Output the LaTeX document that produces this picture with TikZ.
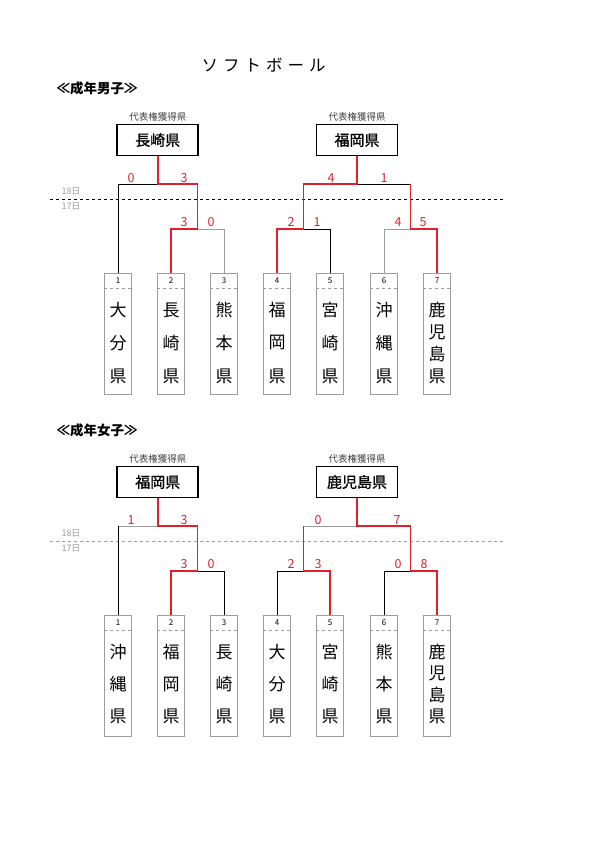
\documentclass[tikz,border=0pt]{standalone}
\usepackage{fontspec}
\setmainfont{Noto Sans CJK JP}
\newfontfamily\cjkmed[FakeBold=1]{Noto Sans CJK JP}
\usetikzlibrary{positioning}
\definecolor{winred}{HTML}{E0202A}
\definecolor{lgray}{HTML}{9C9C9C}

\begin{document}
\begin{tikzpicture}[x=1pt,y=-1pt,
 win/.style={winred,line width=1.8pt},
 lose/.style={black,line width=.7pt},
 gline/.style={lgray,line width=.7pt},
 score/.style={winred,font=\fontsize{12.5}{12.5}\selectfont},
 champ/.style={draw,line width=1.8pt,minimum width=81pt,minimum height=31pt,font=\cjkmed\fontsize{15}{15}\selectfont},
 repcap/.style={text=darkgray,font=\fontsize{9.5}{10}\selectfont,inner sep=1pt},
 day/.style={text=lgray,font=\fontsize{9}{9}\selectfont},
 head/.style={anchor=west,font=\bfseries\fontsize{13.5}{14}\selectfont},
 team/.style={draw=lgray,line width=.8pt,minimum width=27pt,minimum height=121pt,anchor=north,inner sep=0pt},
 pref/.style={font=\fontsize{17}{17}\selectfont,inner sep=0pt}]
 \useasboundingbox (0,0) rectangle (595,842);
 \node[font=\fontsize{16.5}{16.5}\selectfont](title) at (263.5,65){ソ\hspace{5pt}フ\hspace{5pt}ト\hspace{5pt}ボ\hspace{5pt}ー\hspace{5pt}ル};

 % men
 \node[head](mhead) at (53,88){≪成年男子≫};
 \draw[dashed,line width=.6pt] (50,199) -- (505,199);
 \node[day](md18) at (71,191){18日};
 \node[day](md17) at (71,206){17日};
 \foreach \x/\n/\k/\nm in {118/1/3/{大,分,県},171/2/3/{長,崎,県},224/3/3/{熊,本,県},277/4/3/{福,岡,県},330/5/3/{宮,崎,県},384/6/3/{沖,縄,県},437/7/4/{鹿,児,島,県}}{
  \node[team](m\n) at (\x,273){};
  \node[font=\fontsize{8}{8}\selectfont](mn\n) at (\x,281){\n};
  \draw[gline,dashed,line width=.5pt] (m\n.north west) ++(0,15) -- ++(27,0);
  \foreach \c [count=\i] in \nm
   \node[pref](mc\n\i) at (\x,{310+(\i-1)*66/(\k-1)}){\c};
 }
 \coordinate (mL) at (157.75,184);
 \coordinate (mR) at (357,184);
 \coordinate (m23) at (197.5,229);
 \coordinate (m45) at (303.5,229);
 \coordinate (m67) at (410.5,229);
 \node[champ](mA) at (157.75,140){長崎県};
 \node[champ](mB) at (357,140){福岡県};
 \node[repcap,above=1pt of mA](mAc){代表権獲得県};
 \node[repcap,above=1pt of mB](mBc){代表権獲得県};
 \draw[lose] (mL) -| (m1.north);
 \draw[gline] (m23) -| (m3.north);
 \draw[lose] (mR) -- (mR -| m67);
 \draw[lose] (m45) -| (m5.north);
 \draw[gline] (m67) -| (m6.north);
 \draw[win] (mA.south) -- (mL) -| (m23) -| (m2.north);
 \draw[win] (mB.south) -- (mR) -| (m45) -| (m4.north);
 \draw[win] (mR -| m67) -- (m67) -| (m7.north);
 \foreach \x/\y/\s [count=\i] in {131/178/0,184/178/3,184/222/3,211/222/0,331/178/4,384/178/1,291/222/2,317/222/1,398/222/4,423/222/5}
  \node[score](ms\i) at (\x,\y){\s};

 % women
 \begin{scope}[yshift=-342pt]
 \node[head](whead) at (53,88){≪成年女子≫};
 \draw[lgray,dashed,line width=.6pt] (50,199) -- (505,199);
 \node[day](wd18) at (71,191){18日};
 \node[day](wd17) at (71,206){17日};
 \foreach \x/\n/\k/\nm in {118/1/3/{沖,縄,県},171/2/3/{福,岡,県},224/3/3/{長,崎,県},277/4/3/{大,分,県},330/5/3/{宮,崎,県},384/6/3/{熊,本,県},437/7/4/{鹿,児,島,県}}{
  \node[team](w\n) at (\x,273){};
  \node[font=\fontsize{8}{8}\selectfont](wn\n) at (\x,281){\n};
  \draw[gline,dashed,line width=.5pt] (w\n.north west) ++(0,15) -- ++(27,0);
  \foreach \c [count=\i] in \nm
   \node[pref](wc\n\i) at (\x,{310+(\i-1)*64/(\k-1)}){\c};
 }
 \coordinate (wL) at (157.75,184);
 \coordinate (wR) at (357,184);
 \coordinate (wR45) at (303.5,184);
 \coordinate (w23) at (197.5,229);
 \coordinate (w45) at (303.5,229);
 \coordinate (w67) at (410.5,229);
 \node[champ](wA) at (157.75,140){福岡県};
 \node[champ](wB) at (357,140){鹿児島県};
 \node[repcap,above=1pt of wA](wAc){代表権獲得県};
 \node[repcap,above=1pt of wB](wBc){代表権獲得県};
 \draw[gline] (wL) -- (wL -| w1.north);
 \draw[lose] (wL -| w1.north) -- (w1.north);
 \draw[lose] (w23) -| (w3.north);
 \draw[gline] (wR) -- (wR45);
 \draw[lose] (w45) -| (w4.north);
 \draw[lose] (w67) -| (w6.north);
 \draw[win] (wA.south) -- (wL) -| (w23) -| (w2.north);
 \draw[win] (wB.south) -- (wR) -| (w67) -| (w7.north);
 \draw[win] (wR45) -- (w45) -| (w5.north);
 \foreach \x/\y/\s [count=\i] in {131/178/1,184/178/3,184/222/3,211/222/0,318/178/0,397/178/7,291/222/2,318/222/3,398/222/0,424/222/8}
  \node[score](ws\i) at (\x,\y){\s};
 \end{scope}
\end{tikzpicture}
\end{document}
